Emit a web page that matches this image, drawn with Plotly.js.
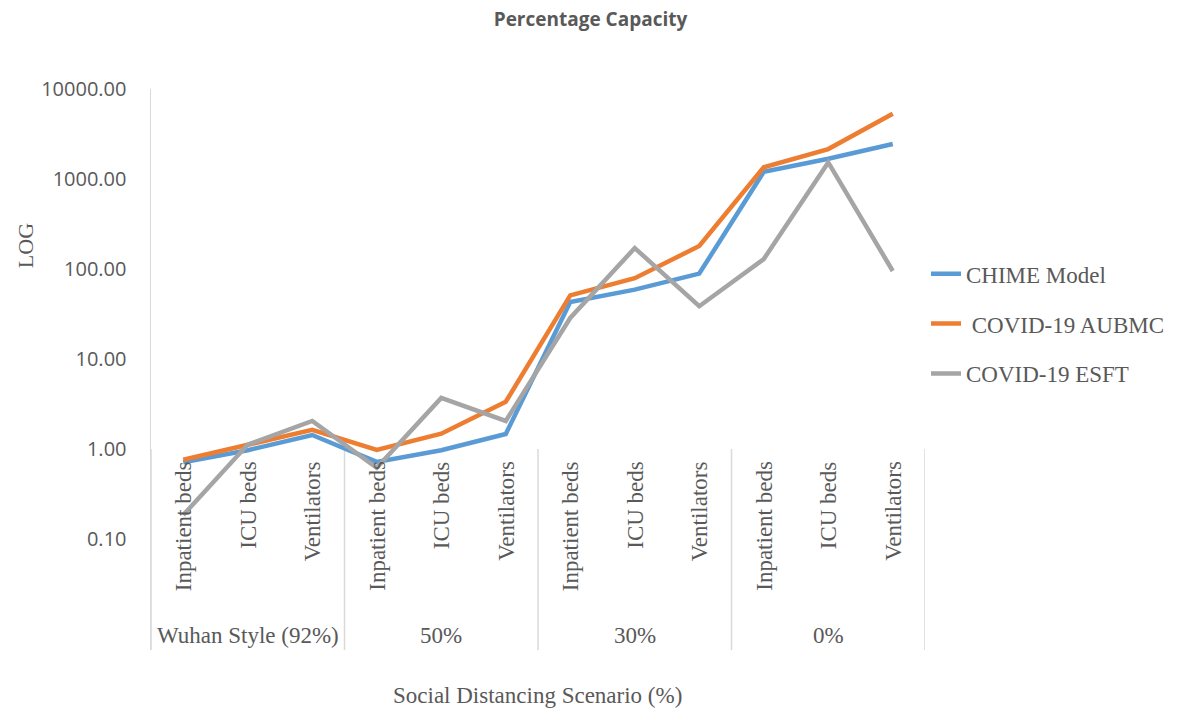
<!DOCTYPE html>
<html>
<head>
<meta charset="utf-8">
<script src="https://cdn.plot.ly/plotly-3.0.1.min.js"></script>
<style>html,body{margin:0;padding:0;background:#fff;}#chart{width:1181px;height:712px;}</style>
</head>
<body>
<div id="chart"></div>
<script>
const groups = ["Wuhan Style (92%)", "50%", "30%", "0%"];
const resources = ["Inpatient beds", "ICU beds", "Ventilators"];
const seriesNames = ["CHIME Model", " COVID-19 AUBMC", "COVID-19 ESFT"];
const chime = [0.71, 0.97, 1.43, 0.72, 0.97, 1.47, 43, 59, 89, 1200, 1680, 2450];
const aubmc = [0.76, 1.12, 1.63, 0.98, 1.48, 3.35, 51, 79, 180, 1350, 2150, 5300];
const esft = [0.185, 1.12, 2.05, 0.62, 3.7, 2.05, 28.6, 171, 38.6, 129, 1530, 95];
const yTicks = [0.1, 1, 10, 100, 1000, 10000];
const yTickText = ["0.10", "1.00", "10.00", "100.00", "1000.00", "10000.00"];
const colors = ["#5B9BD5", "#ED7D31", "#A5A5A5"];

const xIdx = [];
groups.forEach((g, gi) => resources.forEach((r, ri) => xIdx.push(gi * resources.length + ri)));

const serif = "Liberation Serif, Times New Roman, serif";
const grey = "#595959";
const lineGrey = "#d9d9d9";

const traces = [chime, aubmc, esft].map((vals, i) => ({
  x: xIdx, y: vals, name: seriesNames[i], type: "scatter", mode: "lines",
  line: {color: colors[i], width: 4.5}, legendgroup: "g" + i
}));

const annotations = [];
const shapes = [];
// category labels (rotated)
xIdx.forEach((xi) => {
  annotations.push({
    x: xi, y: 0, xref: "x", yref: "y", text: resources[xi % resources.length],
    textangle: -90, showarrow: false, xanchor: "center", yanchor: "top", yshift: -10,
    font: {family: serif, size: 23, color: grey}
  });
});
// group labels and separators
groups.forEach((g, gi) => {
  annotations.push({
    x: gi * resources.length + (resources.length - 1) / 2, y: 0.025, xref: "x", yref: "paper",
    text: g, showarrow: false, xanchor: "center", yanchor: "middle",
    font: {family: serif, size: 23, color: grey}
  });
});
for (let gi = 0; gi <= groups.length; gi++) {
  shapes.push({type: "line", xref: "x", yref: "paper", x0: gi * resources.length - 0.5, x1: gi * resources.length - 0.5,
    y0: 0, y1: (650 - 449) / 561, line: {color: lineGrey, width: 1.5}, layer: "below"});
}
// horizontal axis line at 1.00
shapes.push({type: "line", xref: "paper", yref: "y", x0: 0, x1: 1, y0: 0, y1: 0, line: {color: lineGrey, width: 1.5}, layer: "below"});
// x axis title
annotations.push({x: (538 - 151) / 775, y: -(695 - 650) / 561, xref: "paper", yref: "paper", text: "Social Distancing Scenario (%)",
  showarrow: false, xanchor: "center", yanchor: "middle",
  font: {family: serif, size: 23, color: grey}});
// y axis title
annotations.push({x: (25 - 151) / 775, y: (650 - 246) / 561, xref: "paper", yref: "paper", text: "LOG",
  showarrow: false, textangle: -90, xanchor: "center", yanchor: "middle",
  font: {family: serif, size: 22, color: grey}});

const layout = {
  width: 1181, height: 712,
  margin: {l: 151, r: 255, t: 89, b: 62},
  paper_bgcolor: "#fff", plot_bgcolor: "#fff",
  title: {text: "<b>Percentage Capacity</b>", x: 0.5, xref: "container", y: 1 - 19 / 712, yanchor: "middle",
    font: {family: "Open Sans, sans-serif", size: 19, color: grey}},
  xaxis: {range: [-0.5, 11.5], showgrid: false, zeroline: false, showticklabels: false, showline: false, fixedrange: true},
  yaxis: {type: "log", range: [Math.log10(0.01) - 0.233, 4], showgrid: false, zeroline: false,
    tickvals: yTicks, ticktext: yTickText, ticks: "outside", ticklen: 19, tickcolor: "rgba(0,0,0,0)",
    showline: true, linecolor: lineGrey, linewidth: 1.5,
    tickfont: {family: "Open Sans, sans-serif", size: 20, color: grey}},
  showlegend: true,
  legend: {x: 1.0, xanchor: "left", y: 0.709, yanchor: "top", tracegroupgap: 17,
    font: {family: serif, size: 23, color: grey}, bgcolor: "rgba(0,0,0,0)"},
  annotations: annotations, shapes: shapes
};

Plotly.newPlot("chart", traces, layout, {displayModeBar: false, staticPlot: true});
</script>
</body>
</html>
